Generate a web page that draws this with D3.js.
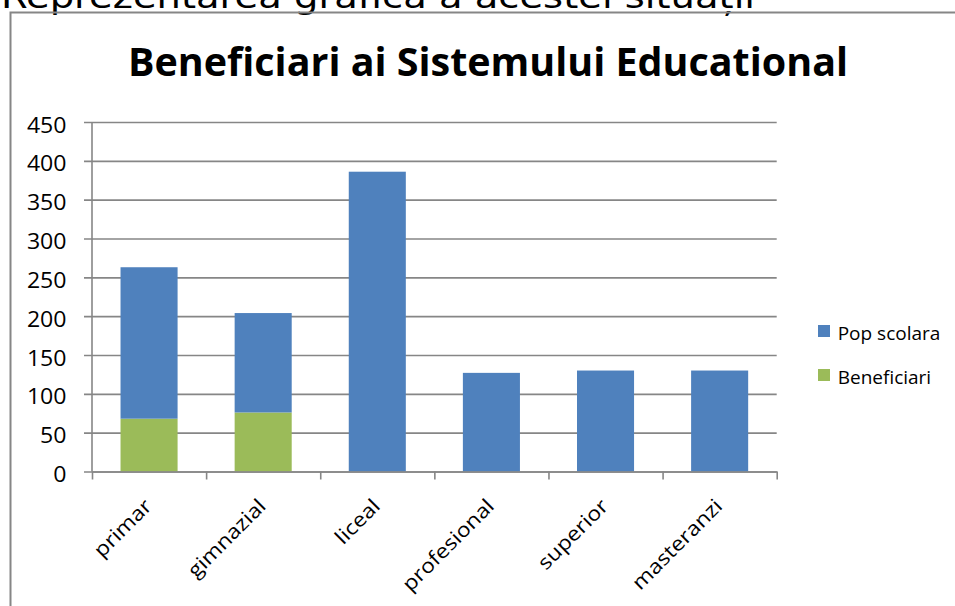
<!DOCTYPE html>
<html>
<head>
<meta charset="utf-8">
<script src="https://cdn.jsdelivr.net/npm/d3@7"></script>
<style>
  body { margin: 0; background: #fff; }
  svg { display: block; }
  text { font-family: "Open Sans", sans-serif; fill: #000; }
</style>
</head>
<body>
<div id="chart"></div>
<script>
// data
const categories = ["primar", "gimnazial", "liceal", "profesional", "superior", "masteranzi"];
const beneficiari = [68, 76, 0, 0, 0, 0];
const popScolara = [195, 128, 386, 127, 130, 130];   // stacked on top of beneficiari
const seriesNames = ["Pop scolara", "Beneficiari"];
const yTicks = [0, 50, 100, 150, 200, 250, 300, 350, 400, 450];

const width = 955;
const height = 606;
const sxTick = 1.1;  // reference labels are a bit wider than Open Sans
const sxCat = 1.14;

const colors = { "Pop scolara": "#4F81BD", "Beneficiari": "#9BBB59" };

const svg = d3.select("#chart").append("svg")
    .attr("width", width)
    .attr("height", height);

// caption above the chart (cut off by the top of the picture)
svg.append("text")
    .attr("x", 1)
    .attr("y", 8)
    .attr("textLength", 754)
    .attr("lengthAdjust", "spacingAndGlyphs")
    .style("font-family", "DejaVu Sans")
    .style("font-size", "32px")
    .text("Reprezentarea grafica a acestei situații");

// chart frame
svg.append("path")
    .attr("d", `M10.5,${height} V12.5 H${width}`)
    .attr("fill", "none")
    .attr("stroke", "#868686")
    .attr("stroke-width", 2);

const plot = { left: 92, right: 776.7, top: 122, bottom: 471.5 };

const x = d3.scaleBand()
    .domain(categories)
    .range([plot.left, plot.right])
    .paddingInner(0.5)
    .paddingOuter(0.25);

const xEdges = d3.scaleLinear()
    .domain([0, categories.length])
    .range([plot.left, plot.right]);

const y = d3.scaleLinear()
    .domain([0, 450])
    .range([plot.bottom, plot.top]);

// title
svg.append("text")
    .attr("x", 488)
    .attr("y", 76)
    .attr("text-anchor", "middle")
    .attr("textLength", 720)
    .attr("lengthAdjust", "spacingAndGlyphs")
    .style("font-size", "39px")
    .style("font-weight", "bold")
    .text("Beneficiari ai Sistemului Educational");

// y axis with gridlines
const yAxis = svg.append("g")
    .attr("transform", `translate(${plot.left},0)`)
    .call(d3.axisLeft(y).tickValues(yTicks).tickSizeInner(-(plot.right - plot.left)).tickSizeOuter(0));

yAxis.select(".domain").remove();
yAxis.selectAll(".tick line")
    .attr("x1", -8)
    .attr("stroke", "#868686")
    .attr("stroke-width", 1.6);
yAxis.selectAll(".tick text")
    .attr("x", -25.5 / sxTick)
    .attr("dy", 10)
    .attr("transform", `scale(${sxTick},1)`)
    .style("font-size", "21px")
    .style("font-family", "Open Sans");

svg.append("line")
    .attr("x1", plot.left).attr("x2", plot.left)
    .attr("y1", plot.top).attr("y2", plot.bottom)
    .attr("stroke", "#868686")
    .attr("stroke-width", 1.6);

// stacked bars
const table = categories.map((c, i) => ({ cat: c, "Beneficiari": beneficiari[i], "Pop scolara": popScolara[i] }));
const stack = d3.stack().keys(["Beneficiari", "Pop scolara"])(table);

svg.append("g")
    .selectAll("g")
    .data(stack)
    .join("g")
    .attr("fill", d => colors[d.key])
    .selectAll("rect")
    .data(d => d.filter(p => p[1] > p[0]))
    .join("rect")
    .attr("x", d => x(d.data.cat))
    .attr("width", x.bandwidth())
    .attr("y", d => y(d[1]))
    .attr("height", d => y(d[0]) - y(d[1]));

// x axis: ticks on category edges
const xAxis = svg.append("g")
    .attr("transform", `translate(0,${plot.bottom})`)
    .call(d3.axisBottom(xEdges).ticks(categories.length).tickFormat("").tickSizeInner(8).tickSizeOuter(0));

xAxis.select(".domain")
    .attr("stroke", "#868686")
    .attr("stroke-width", 1.6);
xAxis.selectAll(".tick line")
    .attr("stroke", "#868686")
    .attr("stroke-width", 1.6);

// category labels, rotated
const xLabels = svg.append("g")
    .attr("transform", `translate(0,${plot.bottom})`)
    .call(d3.axisBottom(x).tickSize(0));

xLabels.select(".domain").remove();
xLabels.selectAll(".tick text")
    .attr("x", 0)
    .attr("y", 0)
    .attr("dy", 0)
    .attr("text-anchor", "end")
    .attr("transform", `translate(4,36) rotate(-45) scale(${sxCat},1)`)
    .style("font-size", "20px")
    .style("font-family", "Open Sans");

// legend
const legend = svg.append("g")
    .selectAll("g")
    .data(seriesNames)
    .join("g")
    .attr("transform", (d, i) => `translate(818,${325 + i * 44})`);

legend.append("rect")
    .attr("width", 12)
    .attr("height", 12)
    .attr("fill", d => colors[d]);

legend.append("text")
    .attr("x", 19.7)
    .attr("y", 15)
    .style("font-size", "19px")
    .text(d => d);
</script>
</body>
</html>
